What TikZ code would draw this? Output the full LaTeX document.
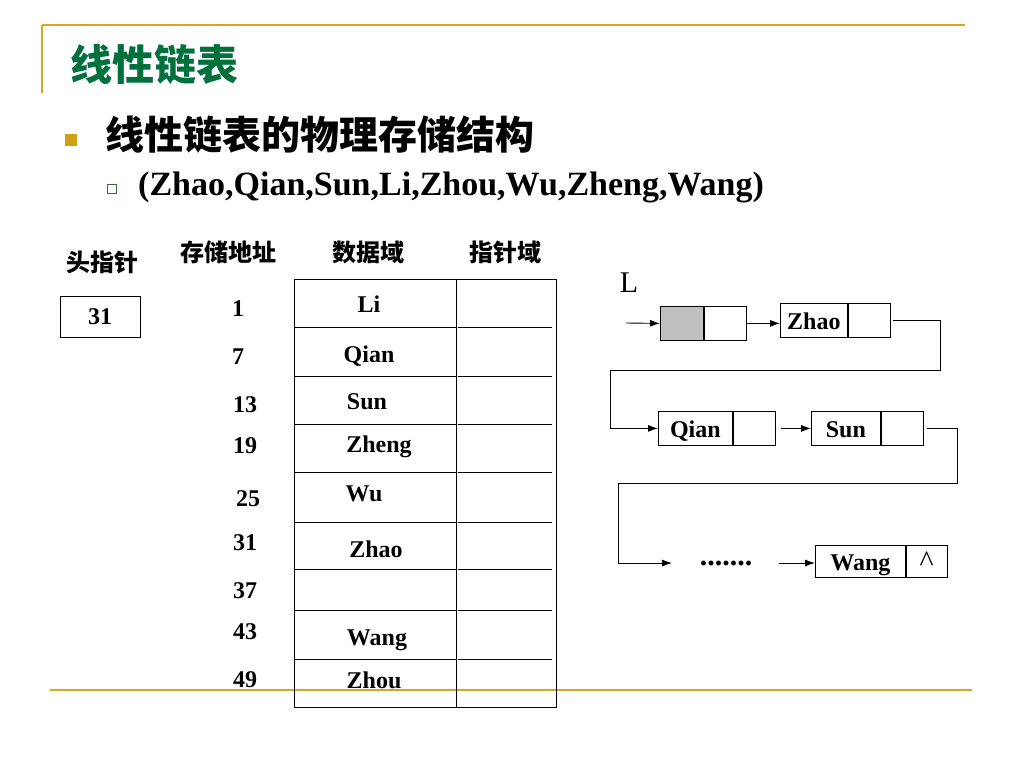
\documentclass[tikz,border=0pt]{standalone}
\usepackage{fontspec}
\setmainfont{Liberation Serif}
\newfontfamily\cjk{Noto Sans CJK SC}
\usetikzlibrary{arrows.meta}
\definecolor{rulegold}{RGB}{218,165,32}
\definecolor{titlegreen}{RGB}{0,112,60}
\definecolor{bulletgold}{RGB}{210,160,20}
\definecolor{subbullet}{RGB}{60,110,60}
\definecolor{cellgray}{RGB}{192,192,192}
\tikzset{
  lbl/.style={font=\bfseries\fontsize{24}{26}\selectfont, inner sep=0pt},
  cn/.style={font=\cjk\bfseries\fontsize{24}{26}\selectfont, inner sep=0pt},
  cell/.style={draw, line width=0.8pt, minimum height=34pt, inner sep=0pt,
               text height=20pt, text depth=1pt,
               font=\bfseries\fontsize{24}{26}\selectfont},
  arr/.style={line width=0.9pt, -{Latex[length=10pt,width=7pt]}},
  goldrule/.style={rulegold, line width=2pt},
  tab/.style={line width=0.8pt},
}
\begin{document}
\begin{tikzpicture}[x=1pt,y=-1pt]
\useasboundingbox (0,0) rectangle (1024,768);
\fill[white] (0,0) rectangle (1024,768);

% slide rules
\draw[goldrule] (42,25) -- (965,25);
\draw[goldrule] (42,25) -- (42,93);
\draw[goldrule] (50,690) -- (972,690);

% title and bullets
\node[font=\cjk\bfseries\fontsize{42}{44}\selectfont, text=titlegreen, inner sep=0pt] (title) at (154,65) {线性链表};
\node[fill=bulletgold, minimum size=12pt, inner sep=0pt] (b1) at (71,140) {};
\node[font=\cjk\bfseries\fontsize{39}{41}\selectfont, inner sep=0pt, anchor=west] (head) at (105,135) {线性链表的物理存储结构};
\node[draw=subbullet, line width=1.2pt, minimum size=9pt, inner sep=0pt] (b2) at (112,189) {};
\node[font=\bfseries\fontsize{34}{36}\selectfont, inner sep=0pt, anchor=west] (seq) at (138,187) {(Zhao,Qian,Sun,Li,Zhou,Wu,Zheng,Wang)};

% column headers
\node[cn] (hh1) at (102,262) {头指针};
\node[cn] (hh2) at (228,252) {存储地址};
\node[cn] (hh3) at (368,252) {数据域};
\node[cn] (hh4) at (505,252) {指针域};

% head pointer box
\node[draw, line width=0.8pt, minimum width=80pt, minimum height=41pt, lbl] (hp) at (100,317) {31};

% table
\draw[tab] (294,279) rectangle (556,707);
\draw[tab] (456,279) -- (456,707);
\foreach \yy in {327,376,424,472,522,569,610,659}{
  \draw[tab] (294,\yy) -- (456,\yy);
  \draw[tab] (458,\yy) -- (552,\yy);
}

% addresses
\node[lbl] (a1) at (238,309) {1};
\node[lbl] (a2) at (238,357) {7};
\node[lbl] (a3) at (245,405) {13};
\node[lbl] (a4) at (245,446) {19};
\node[lbl] (a5) at (248,499) {25};
\node[lbl] (a6) at (245,543) {31};
\node[lbl] (a7) at (245,591) {37};
\node[lbl] (a8) at (245,632) {43};
\node[lbl] (a9) at (245,680) {49};

% data
\node[lbl] (d1) at (369,304) {Li};
\node[lbl] (d2) at (369,356) {Qian};
\node[lbl] (d3) at (367,402) {Sun};
\node[lbl] (d4) at (379,447) {Zheng};
\node[lbl] (d5) at (364,494) {Wu};
\node[lbl] (d6) at (376,549) {Zhao};
\node[lbl] (d8) at (377,640) {Wang};
\node[lbl] (d9) at (374,680) {Zhou};

% linked list
\node[font=\fontsize{30}{32}\selectfont, inner sep=0pt] (L) at (629,283) {L};

\node[cell, fill=cellgray, minimum width=43pt, anchor=north west] (h1) at (660,306) {};
\node[cell, minimum width=42pt, anchor=west] (h2) at (h1.east) {};
\coordinate (Lin) at (626,323);
\draw[arr] (Lin) -- (h1.west);

\node[cell, minimum width=67pt, anchor=north west] (zd) at (780,303) {Zhao};
\node[cell, minimum width=42pt, anchor=west] (zp) at (zd.east) {};
\draw[arr] (h2.east) -- (h2.east -| zd.west);

\node[cell, minimum width=74pt, anchor=north west] (qd) at (658,411) {Qian};
\node[cell, minimum width=42pt, anchor=west] (qp) at (qd.east) {};
\node[cell, minimum width=69pt, anchor=north west] (sd) at (811,411) {Sun};
\node[cell, minimum width=42pt, anchor=west] (sp) at (sd.east) {};
\draw[arr, shorten <=5pt] (qp.east) -- (sd.west);

\coordinate (t1) at (940,370);
\coordinate (t2) at (610,370);
\draw[arr, shorten <=2pt] (zp.east) -| (t1) -- (t2) |- (qd.west);

\coordinate (u1) at (957,483);
\coordinate (u2) at (618,483);
\coordinate (u3) at (672,563);
\draw[arr, shorten <=3pt] (sp.east) -| (u1) -- (u2) |- (u3);

\node[font=\bfseries\fontsize{30}{32}\selectfont, inner sep=0pt] (dots) at (726,563) {.......};

\node[cell, minimum width=90pt, minimum height=32pt, anchor=north west] (wd) at (815,545) {Wang};
\node[cell, minimum width=41pt, minimum height=32pt, anchor=west] (wp) at (wd.east) {};
\node[font=\fontsize{30}{32}\selectfont, inner sep=0pt] (nul) at (wp.center) {\textasciicircum};
\coordinate (v1) at (779,563);
\draw[arr] (v1) -- (v1 -| wd.west);
\end{tikzpicture}
\end{document}
